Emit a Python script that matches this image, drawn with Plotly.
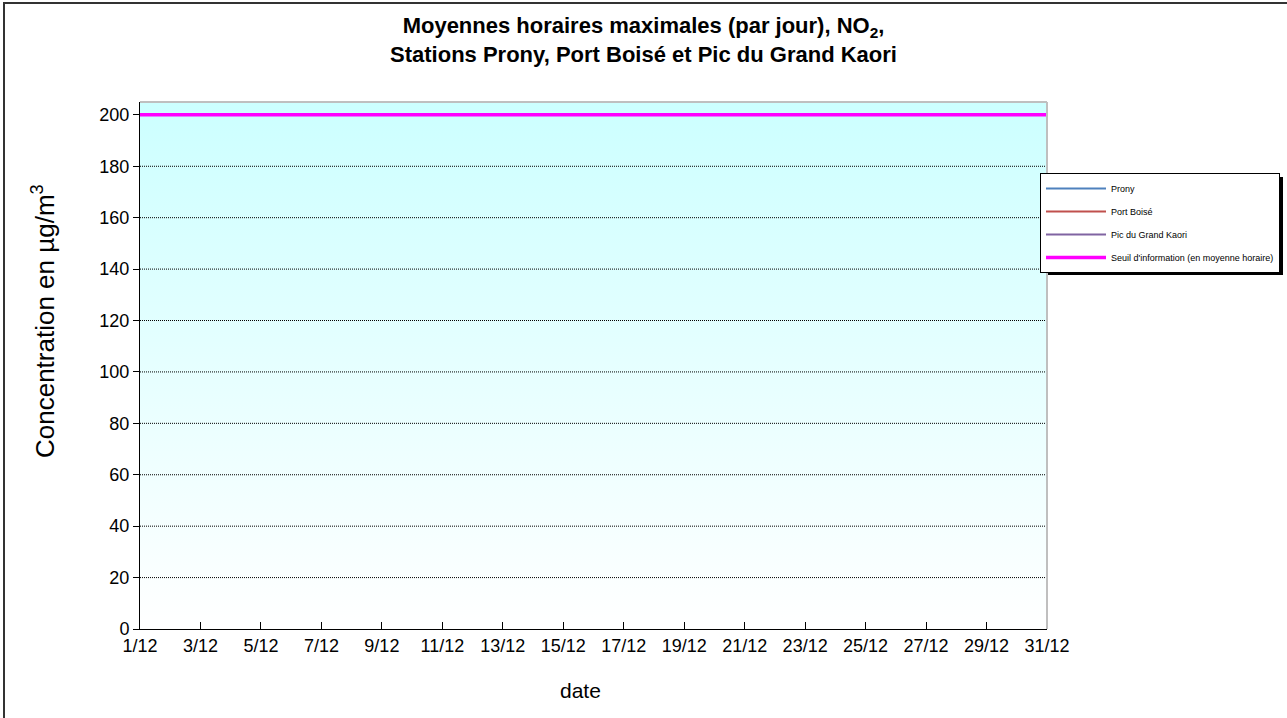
import plotly.graph_objects as go

# ---- data ----
days = list(range(1, 32))
tick_days = list(range(1, 32, 2))
tick_labels = [f"{d}/12" for d in tick_days]
prony = [None] * 31
port_boise = [None] * 31
pic_grand_kaori = [None] * 31
seuil_information = [200] * 31
y_ticks = list(range(0, 201, 20))
y_max = 205

W, H = 1287, 718
L, R, T, B = 140, 240, 102, 89
pw = W - L - R
ph = H - T - B

def px_x(p):
    return (p - L) / pw

def px_y(p):
    return (H - B - p) / ph

fig = go.Figure()

# gradient background of the plot area
fig.add_trace(go.Scatter(
    x=[days[0], days[-1], days[-1], days[0], days[0]],
    y=[0, 0, y_max, y_max, 0],
    mode="none", fill="toself",
    fillgradient=dict(type="vertical", start=0, stop=y_max,
                      colorscale=[[0, "#FFFFFF"], [1, "#CCFFFF"]]),
    showlegend=False, hoverinfo="skip"))

# dotted horizontal gridlines (drawn over the gradient)
gx, gy = [], []
for v in y_ticks[1:]:
    gx += [days[0], days[-1], None]
    gy += [v, v, None]
fig.add_trace(go.Scatter(
    x=gx, y=gy, mode="lines",
    line=dict(color="black", width=1, dash="1px,1px"),
    showlegend=False, hoverinfo="skip"))

series = [
    ("Prony", prony, "#4F81BD", 2),
    ("Port Boisé", port_boise, "#C0504D", 2),
    ("Pic du Grand Kaori", pic_grand_kaori, "#8064A2", 2),
    ("Seuil d'information (en moyenne horaire)", seuil_information, "#FF00FF", 3.5),
]
for i, (name, vals, col, w) in enumerate(series):
    fig.add_trace(go.Scatter(
        x=days, y=vals, name=name, mode="lines",
        line=dict(color=col, width=w), legendgroup=f"g{i}"))

font = "Liberation Sans, Arial, sans-serif"

fig.update_layout(
    width=W, height=H,
    margin=dict(l=L, r=R, t=T, b=B, autoexpand=False),
    paper_bgcolor="white", plot_bgcolor="white",
    font=dict(family=font, color="black", size=18),
    title=dict(
        text="<b>Moyennes horaires maximales (par jour), NO<sub>2</sub>,<br>Stations Prony, Port Boisé et Pic du Grand Kaori</b>",
        x=0.5, xanchor="center", y=1 - 33 / H, yanchor="middle",
        font=dict(size=22, family=font)),
    xaxis=dict(
        range=[days[0], days[-1]], tickvals=tick_days, ticktext=tick_labels,
        ticks="inside", ticklen=7, tickcolor="black",
        showline=True, linecolor="black", linewidth=1,
        showgrid=False, zeroline=False,
        tickfont=dict(size=18)),
    yaxis=dict(
        range=[0, y_max], tickvals=y_ticks,
        ticks="outside", ticklen=6, tickcolor="black",
        showline=True, linecolor="black", linewidth=1,
        showgrid=False, zeroline=False,
        tickfont=dict(size=18)),
    legend=dict(
        x=px_x(1040), y=px_y(173), xanchor="left", yanchor="top",
        bgcolor="white", bordercolor="black", borderwidth=1,
        font=dict(size=9, family=font),
        traceorder="grouped", tracegroupgap=4, itemwidth=60),
    showlegend=True,
)

# axis titles
fig.add_annotation(text="date", xref="paper", yref="paper",
                   x=px_x(580), y=px_y(690), showarrow=False,
                   xanchor="center", yanchor="middle", font=dict(size=21))
fig.add_annotation(text="Concentration en µg/m<sup>3</sup>", xref="paper", yref="paper",
                   x=px_x(43), y=px_y(321), showarrow=False, textangle=-90,
                   xanchor="center", yanchor="middle", font=dict(size=26))

# top and right gray frame of plot area
fig.add_shape(type="line", xref="paper", yref="paper", x0=0, x1=1, y0=1, y1=1,
              line=dict(color="#BFBFBF", width=2))
fig.add_shape(type="line", xref="paper", yref="paper", x0=1, x1=1, y0=0, y1=1,
              line=dict(color="#BFBFBF", width=2))
# legend shadow
fig.add_shape(type="rect", xref="paper", yref="paper",
              x0=px_x(1044), x1=px_y(0) * 0 + px_x(1283), y0=px_y(275), y1=px_y(177),
              fillcolor="black", line=dict(width=0), layer="below")
# outer chart border
fig.add_shape(type="rect", xref="paper", yref="paper",
              x0=px_x(4), x1=px_x(1300), y0=px_y(730), y1=px_y(3),
              line=dict(color="#333333", width=2), fillcolor="rgba(0,0,0,0)")

fig.write_html("out.html", config={"displayModeBar": False},
               post_script="document.body.style.margin='0';")
